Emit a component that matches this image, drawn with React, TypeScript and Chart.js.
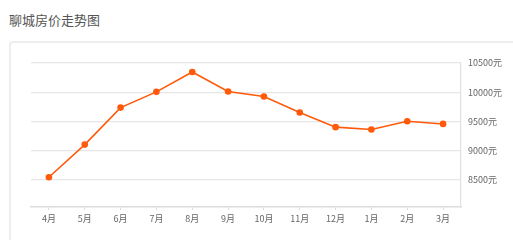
import React, { useEffect, useRef } from "react";
import { Chart, registerables } from "chart.js";

Chart.register(...registerables);

const months = ["4月", "5月", "6月", "7月", "8月", "9月", "10月", "11月", "12月", "1月", "2月", "3月"];
const prices = [8540, 9100, 9735, 10005, 10345, 10010, 9925, 9650, 9400, 9360, 9500, 9455];
const yTicks = [8500, 9000, 9500, 10000, 10500];
const yMin = 8030;
const yMax = 10500;

export default function App() {
  const ref = useRef<HTMLCanvasElement>(null);
  useEffect(() => {
    document.body.style.margin = "0";
    const ctx = ref.current!;
    const chart = new Chart(ctx, {
      type: "line",
      data: {
        labels: months,
        datasets: [
          {
            data: prices,
            borderColor: "#ff5a0a",
            backgroundColor: "#ff5a0a",
            borderWidth: 1.6,
            pointRadius: 3.3,
            pointBorderWidth: 0,
            pointBackgroundColor: "#ff5a0a",
            tension: 0,
          },
        ],
      },
      options: {
        animation: false,
        responsive: false,
        maintainAspectRatio: false,
        layout: { padding: { left: 31, top: 63, right: 0, bottom: 0 } },
        plugins: { legend: { display: false }, tooltip: { enabled: false } },
        scales: {
          x: {
            type: "category",
            offset: true,
            grid: { display: true, drawOnChartArea: false, drawTicks: true, tickLength: 3, offset: false, color: "#dcdcdc", lineWidth: 1 },
            border: { display: true, color: "#dcdcdc", width: 1.5 },
            ticks: { color: "#666", font: { size: 9, family: "'Noto Sans CJK SC', sans-serif" }, padding: 3, maxRotation: 0 },
            afterFit: (s: any) => { s.height = 33; },
          },
          y: {
            position: "right",
            min: yMin,
            max: yMax,
            afterBuildTicks: (s: any) => { s.ticks = yTicks.map((v) => ({ value: v })); },
            grid: { color: "#e6e6e6", lineWidth: 1.2, drawTicks: false },
            border: { display: true, color: "#e0e0e0", width: 1.2 },
            ticks: {
              color: "#666",
              font: { size: 9, family: "'Noto Sans CJK SC', sans-serif" },
              padding: 7,
              callback: (v: any) => v + "元",
            },
            afterFit: (s: any) => { s.width = 52; },
          },
        },
      },
    });
    return () => chart.destroy();
  }, []);
  return (
    <div style={{ position: "relative", width: 513, height: 240, overflow: "hidden", background: "#fff" }}>
      <div
        style={{
          position: "absolute",
          left: 9,
          top: 13,
          fontSize: 13,
          color: "#555",
          fontFamily: "'Noto Sans CJK SC', sans-serif",
          lineHeight: "14px",
        }}
      >
        聊城房价走势图
      </div>
      <div
        style={{
          position: "absolute",
          left: 9,
          top: 41,
          width: 540,
          height: 240,
          border: "2px solid #eeeeee",
          borderRadius: 4,
          boxSizing: "border-box",
        }}
      />
      <canvas ref={ref} width={513} height={240} style={{ position: "absolute", left: 0, top: 0 }} />
    </div>
  );
}
